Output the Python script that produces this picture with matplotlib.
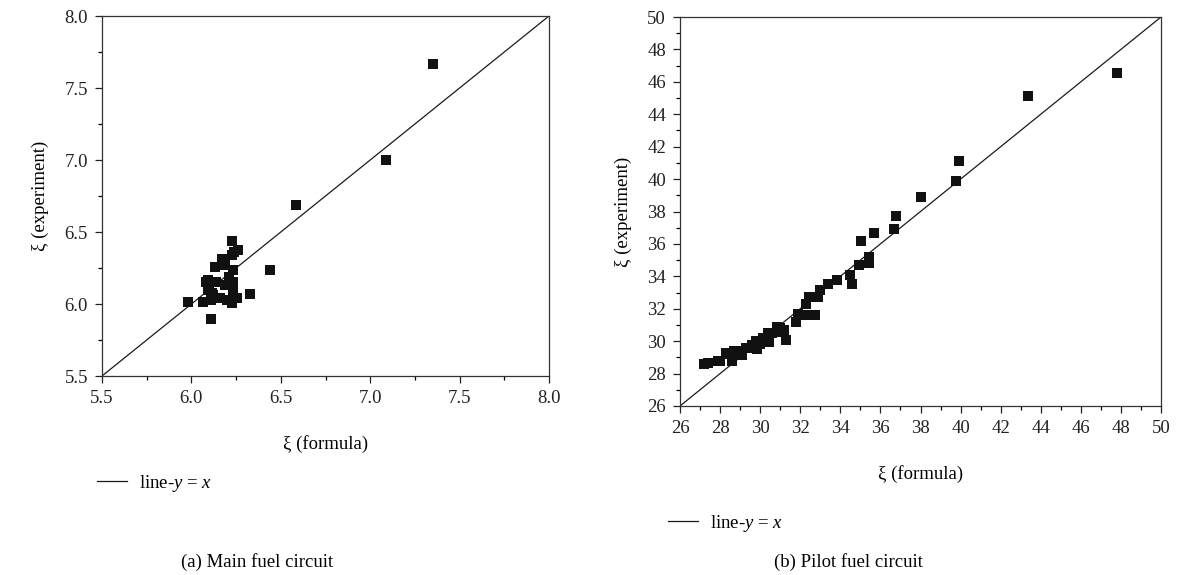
import matplotlib
matplotlib.use("Agg")
import matplotlib.pyplot as plt
from matplotlib.lines import Line2D
from matplotlib.ticker import MultipleLocator, FormatStrFormatter

plt.rcParams['font.family'] = ['Liberation Serif', 'DejaVu Serif']
plt.rcParams['mathtext.fontset'] = 'custom'
plt.rcParams['mathtext.rm'] = 'Liberation Serif'
plt.rcParams['mathtext.it'] = 'Liberation Serif:italic'

# (a) Main fuel circuit
main_formula = [7.35, 7.09, 6.585, 6.225, 6.26, 6.225, 6.17, 6.13, 6.19, 6.23, 6.44,
                6.095, 6.14, 6.23, 6.188, 6.095, 6.113, 6.23, 6.33, 5.983, 6.067,
                6.11, 6.16, 6.197, 6.253, 6.225, 6.107, 6.10, 6.12, 6.08, 6.21, 6.24]
main_experiment = [7.67, 7.00, 6.685, 6.44, 6.375, 6.34, 6.31, 6.26, 6.27, 6.236, 6.236,
                   6.17, 6.155, 6.155, 6.13, 6.10, 6.075, 6.086, 6.07, 6.016, 6.016,
                   6.03, 6.04, 6.03, 6.04, 6.005, 5.894, 6.13, 6.06, 6.15, 6.19, 6.36]

# (b) Pilot fuel circuit
pilot_formula = [27.2, 27.4, 27.9, 28.0, 28.3, 28.4, 28.6, 28.7, 28.8, 29.0, 29.1, 29.3,
                 29.45, 29.6, 29.8, 29.85, 30.0, 30.15, 30.2, 30.4, 30.45, 30.6, 30.85,
                 30.9, 31.0, 31.2, 31.3, 31.8, 31.9, 32.25, 32.3, 32.45, 32.75, 32.9,
                 33.0, 33.4, 33.85, 34.5, 34.6, 34.95, 35.45, 35.45, 35.05, 35.7, 36.7,
                 36.8, 38.0, 39.75, 39.9, 43.35, 47.8]
pilot_experiment = [28.6, 28.65, 28.75, 28.75, 29.3, 29.2, 28.8, 29.4, 29.3, 29.4, 29.15,
                    29.6, 29.6, 29.75, 30.0, 29.5, 29.8, 30.2, 30.0, 30.5, 29.95, 30.5,
                    30.85, 30.55, 30.8, 30.7, 30.1, 31.2, 31.7, 31.6, 32.3, 32.75, 31.6,
                    32.75, 33.15, 33.55, 33.8, 34.1, 33.55, 34.7, 35.2, 34.85, 36.2,
                    36.65, 36.95, 37.7, 38.9, 39.9, 41.1, 45.1, 46.55]

FS = 13.5
fig = plt.figure(figsize=(11.77, 5.75), dpi=100)
ax1 = fig.add_axes([102/1177, 1-376/575, 447/1177, 360/575])
ax2 = fig.add_axes([680/1177, 1-406/575, 481/1177, 389/575])

def style(ax, lo, hi, major, minor):
    ax.plot([lo, hi], [lo, hi], color='#1a1a1a', lw=0.9, zorder=2)
    ax.set_xlim(lo, hi)
    ax.set_ylim(lo, hi)
    ax.xaxis.set_major_locator(MultipleLocator(major))
    ax.xaxis.set_minor_locator(MultipleLocator(minor))
    ax.yaxis.set_major_locator(MultipleLocator(major))
    ax.yaxis.set_minor_locator(MultipleLocator(minor))
    ax.tick_params(which='major', direction='out', length=5, width=0.9, labelsize=FS,
                   colors='#222222', pad=5)
    ax.tick_params(which='minor', direction='out', length=3, width=0.9)
    for s in ax.spines.values():
        s.set_linewidth(0.9)
        s.set_color('#333333')
    ax.set_xlabel('ξ (formula)', fontsize=FS, labelpad=20)
    ax.set_ylabel('ξ (experiment)', fontsize=FS, labelpad=11)

ax1.scatter(main_formula, main_experiment, marker='s', s=44, color='#111111', zorder=3, linewidths=0)
style(ax1, 5.5, 8.0, 0.5, 0.25)
ax1.yaxis.set_major_formatter(FormatStrFormatter('%.1f'))
ax1.xaxis.set_major_formatter(FormatStrFormatter('%.1f'))

ax2.scatter(pilot_formula, pilot_experiment, marker='s', s=44, color='#111111', zorder=3, linewidths=0)
style(ax2, 26, 50, 2, 1)

h = [Line2D([0], [0], color='#1a1a1a', lw=0.9)]
for xa, ya in [(97, 483), (668, 523)]:
    fig.legend(h, ['line-$y$ = $x$'], loc='center left', bbox_to_anchor=(xa/1177, 1-ya/575),
               frameon=False, fontsize=FS, handlelength=1.6, handletextpad=0.65,
               borderaxespad=0, borderpad=0)

fig.text(257/1177, 1-562/575, '(a) Main fuel circuit', ha='center', va='center', fontsize=FS)
fig.text(848/1177, 1-562/575, '(b) Pilot fuel circuit', ha='center', va='center', fontsize=FS)

fig.savefig('out.png', dpi=100)
